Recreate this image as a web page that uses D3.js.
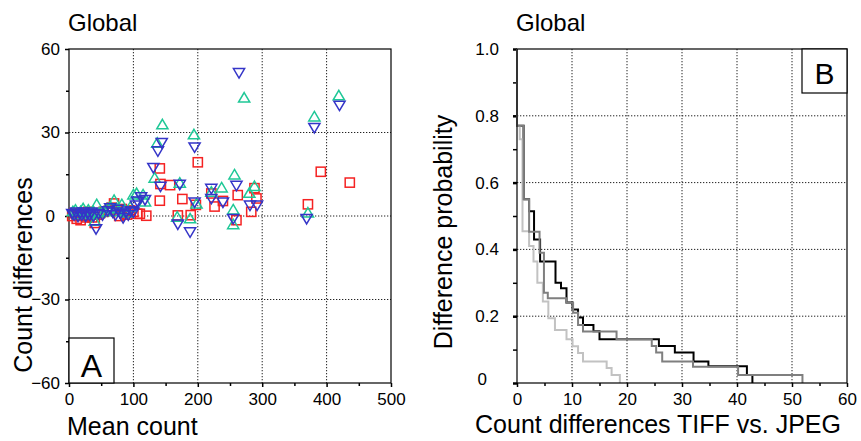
<!DOCTYPE html>
<html><head><meta charset="utf-8">
<script src="https://cdn.jsdelivr.net/npm/d3@7"></script>
<style>
body{margin:0;background:#fff;}
text{font-family:"Liberation Sans",Arial,Helvetica,sans-serif;fill:#000;}
</style></head>
<body><svg id="chart" width="861" height="441"></svg>
<script>
// ---- Panel A data: [mean count, count difference] ----
const redSquares = [
 [5,0],[9,1],[12,-1],[15,0.5],[18,-1.5],[21,1],[24,0],[27,-0.5],[30,1.5],[33,0.5],[36,-0.5],[40,-2.5],[44,0.5],[48,1],
 [54,1.5],[62,2],[66,3],[70,4.5],[74,2],[78,0],[82,2.5],[86,1],[90,0.5],[95,2],[100,1.5],[106,0.8],[110,0.8],[120,0.1],
 [141,17.1],[142,11.5],[157,11.1],[141,5.5],[176,6.1],[200,19.3],[169,0.2],[189,0.3],[197,4.0],[226,3.4],[239,5.4],
 [221,8.1],[262,7.5],[288,10],[291,6.3],[283,1.5],[260,-1.5],[371,4.2],[391,15.9],[436,12.0]
];
const blueDown = [
 [5,1],[8,0.5],[11,1.5],[14,0],[17,1],[20,0.5],[23,1.5],[26,0],[29,1],[32,0.5],[35,1.5],[38,0],[42,-4.5],[46,1],[52,0.5],
 [60,2],[64,3],[68,1.5],[72,0.5],[76,2.5],[80,1],[84,-0.5],[88,1.5],[92,0.5],[96,2],[100,1.5],[104,4],[106,5.5],[112,7],[118,6],
 [144,26.5],[138,23.5],[131,17.5],[142,10.8],[172,11.5],[195,24.9],[195,5.1],[169,-2.8],[188,-5.6],[264,51.6],[420,39.9],
 [381,31.9],[260,11.1],[221,10],[221,6.4],[239,5.1],[281,4],[292,4],[369,-0.8],[255,-0.8]
];
const tealUp = [
 [6,1.5],[10,2],[14,0.5],[18,1.5],[22,2.5],[26,1],[30,2],[34,0.5],[38,1.5],[40,-2],[43,4],[47,1],[55,1.5],[60,2.5],
 [65,3],[70,5.5],[74,2.5],[78,1.5],[82,4],[86,2],[90,1],[95,3],[100,7.5],[105,8],[115,7.5],[118,5],
 [145,32.7],[194,29.1],[137,26.1],[133,13.5],[172,11.7],[198,4.2],[168,-0.5],[188,-1.1],[272,42.3],[419,43.1],[381,35.5],
 [257,14.7],[237,10],[221,8.5],[288,10.5],[280,8.1],[255,2.1],[255,-3.2],[371,1.0]
];
const xTicksA = [0,100,200,300,400,500];
const xMinorA = [50,150,250,350,450];
const yTicksA = [-60,-30,0,30,60];
const yMinorA = [-45,-15,15,45];

// ---- Panel B data: step curves [count difference, probability] ----
const blackCurve = [[0,1],[0,0.77],[1.2,0.55],[2.2,0.514],[3.1,0.43],[4.2,0.364],[7,0.30],[8,0.284],[9,0.241],[10.1,0.22],
 [11.1,0.196],[12,0.174],[13.9,0.155],[15,0.131],[25.8,0.111],[28.7,0.091],[32.1,0.064],[34.8,0.05],[41.8,0.024],[42.8,0]];
const darkGrayCurve = [[0,1],[0,0.77],[1.2,0.55],[2.2,0.453],[4.1,0.39],[4.9,0.27],[5.6,0.254],[9,0.24],[10.2,0.21],
 [11.1,0.174],[12,0.154],[18.1,0.131],[24.5,0.111],[25.3,0.091],[26.4,0.064],[32,0.049],[40.2,0.024],[51.9,0]];
const lightGrayCurve = [[0,1],[0,0.77],[0.5,0.73],[1,0.454],[2.2,0.41],[3.0,0.364],[3.7,0.30],[4.7,0.244],[5.7,0.194],
 [6.9,0.159],[9.0,0.131],[10.1,0.11],[11.1,0.09],[12,0.064],[16.3,0.045],[17.2,0.024],[18.7,0]];
const xTicksB = [0,10,20,30,40,50,60];
const xMinorB = [5,15,25,35,45,55];
const yTicksB = [0,0.2,0.4,0.6,0.8,1.0];
const yMinorB = [0.1,0.3,0.5,0.7,0.9];

const svg = d3.select("#chart");
const TICKFONT = "17px";

// ================= Panel A =================
const A = {l:69, r:391, t:49, b:383};
const xA = d3.scaleLinear().domain([0,500]).range([A.l, A.r]);
const yA = d3.scaleLinear().domain([-60,60]).range([A.b, A.t]);
const gA = svg.append("g");

function grid(g, xs, ys, xVals, yVals, box){
  g.selectAll(null).data(xVals).enter().append("line")
    .attr("x1", d=>xs(d)).attr("x2", d=>xs(d)).attr("y1", box.t).attr("y2", box.b)
    .attr("stroke","#222").attr("stroke-width",1).attr("stroke-dasharray","1.3,1.7");
  g.selectAll(null).data(yVals).enter().append("line")
    .attr("y1", d=>ys(d)).attr("y2", d=>ys(d)).attr("x1", box.l).attr("x2", box.r)
    .attr("stroke","#222").attr("stroke-width",1).attr("stroke-dasharray","1.3,1.7");
}
grid(gA, xA, yA, [100,200,300,400], [-30,0,30], A);

function styleAxis(g){
  g.select(".domain").remove();
  g.selectAll(".tick line").attr("stroke","#000").attr("stroke-width",1.5);
  g.selectAll(".tick text").style("font-size",TICKFONT).attr("fill","#000");
}
const axAx = gA.append("g").attr("transform",`translate(0,${A.b})`)
  .call(d3.axisBottom(xA).tickValues(xTicksA).tickSize(4).tickPadding(6));
styleAxis(axAx);
const axAxm = gA.append("g").attr("transform",`translate(0,${A.b})`)
  .call(d3.axisBottom(xA).tickValues(xMinorA).tickSize(3).tickFormat(""));
styleAxis(axAxm);
const axAy = gA.append("g").attr("transform",`translate(${A.l},0)`)
  .call(d3.axisLeft(yA).tickValues(yTicksA).tickSize(4).tickPadding(5));
styleAxis(axAy);
axAy.selectAll(".tick text").filter(d=>d===0).attr("dx",-5);
const axAym = gA.append("g").attr("transform",`translate(${A.l},0)`)
  .call(d3.axisLeft(yA).tickValues(yMinorA).tickSize(3).tickFormat(""));
styleAxis(axAym);

gA.append("rect").attr("x",A.l).attr("y",A.t).attr("width",A.r-A.l).attr("height",A.b-A.t)
  .attr("fill","none").attr("stroke","#000").attr("stroke-width",1.2);

// markers
const RED="#f52222", TEAL="#1fc897", BLUE="#3535c8";
const sq = 9.2;
gA.append("g").selectAll("rect").data(redSquares).enter().append("rect")
  .attr("x", d=>xA(d[0])-sq/2).attr("y", d=>yA(d[1])-sq/2).attr("width",sq).attr("height",sq)
  .attr("fill","none").attr("stroke",RED).attr("stroke-width",1.5);
const tw=5.6, th=9.5;
gA.append("g").selectAll("path").data(tealUp).enter().append("path")
  .attr("d", d=>{const x=xA(d[0]), y=yA(d[1]); return `M${x},${y-th*0.6}L${x+tw},${y+th*0.4}L${x-tw},${y+th*0.4}Z`;})
  .attr("fill","none").attr("stroke",TEAL).attr("stroke-width",1.5);
gA.append("g").selectAll("path").data(blueDown).enter().append("path")
  .attr("d", d=>{const x=xA(d[0]), y=yA(d[1]); return `M${x},${y+th*0.6}L${x+tw},${y-th*0.4}L${x-tw},${y-th*0.4}Z`;})
  .attr("fill","none").attr("stroke",BLUE).attr("stroke-width",1.5);

// box A
gA.append("rect").attr("x",A.l).attr("y",338).attr("width",45).attr("height",A.b-338)
  .attr("fill","#fff").attr("stroke","#000").attr("stroke-width",1.2);
gA.append("text").attr("x",A.l+22.5).attr("y",377).attr("text-anchor","middle")
  .style("font-size","32px").text("A");

gA.append("text").attr("x",68).attr("y",31).style("font-size","24px").text("Global");
gA.append("text").attr("transform","translate(32,275) rotate(-90)").attr("text-anchor","middle")
  .style("font-size","25px").text("Count differences");
gA.append("text").attr("x",67).attr("y",435).style("font-size","25px").text("Mean count");

// ================= Panel B =================
const B = {l:517, r:847, t:49, b:383};
const xB = d3.scaleLinear().domain([0,60]).range([B.l, B.r]);
const yB = d3.scaleLinear().domain([0,1]).range([B.b, B.t]);
const gB = svg.append("g");
grid(gB, xB, yB, [10,20,30,40,50], [0.2,0.4,0.6,0.8], B);

const axBx = gB.append("g").attr("transform",`translate(0,${B.b})`)
  .call(d3.axisBottom(xB).tickValues(xTicksB).tickSize(4).tickPadding(6));
styleAxis(axBx);
const axBxm = gB.append("g").attr("transform",`translate(0,${B.b})`)
  .call(d3.axisBottom(xB).tickValues(xMinorB).tickSize(3).tickFormat(""));
styleAxis(axBxm);
const axBy = gB.append("g").attr("transform",`translate(${B.l},0)`)
  .call(d3.axisLeft(yB).tickValues(yTicksB).tickSize(4).tickPadding(14)
    .tickFormat(d=> d===0 ? "0" : d3.format(".1f")(d)));
styleAxis(axBy);
axBy.selectAll(".tick text").filter(d=>d===0).attr("dx",-12).attr("dy","0.1em");
axBy.selectAll(".tick line").attr("stroke-width",2.5);
const axBym = gB.append("g").attr("transform",`translate(${B.l},0)`)
  .call(d3.axisLeft(yB).tickValues(yMinorB).tickSize(4).tickFormat(""));
styleAxis(axBym);

const stepLine = d3.line().x(d=>xB(d[0])).y(d=>yB(d[1])).curve(d3.curveStepAfter);
gB.append("path").datum(blackCurve).attr("d",stepLine).attr("fill","none").attr("stroke","#000").attr("stroke-width",2);
gB.append("path").datum(lightGrayCurve).attr("d",stepLine).attr("fill","none").attr("stroke","#c2c2c2").attr("stroke-width",2);
gB.append("path").datum(darkGrayCurve).attr("d",stepLine).attr("fill","none").attr("stroke","#7f7f7f").attr("stroke-width",2);

gB.append("rect").attr("x",B.l).attr("y",B.t).attr("width",B.r-B.l).attr("height",B.b-B.t)
  .attr("fill","none").attr("stroke","#000").attr("stroke-width",1.2);

gB.append("rect").attr("x",802).attr("y",B.t).attr("width",B.r-802).attr("height",44)
  .attr("fill","#fff").attr("stroke","#000").attr("stroke-width",1.2);
gB.append("text").attr("x",824.5).attr("y",84).attr("text-anchor","middle")
  .style("font-size","30px").text("B");

gB.append("text").attr("x",516).attr("y",31).style("font-size","24px").text("Global");
gB.append("text").attr("transform","translate(452,232) rotate(-90)").attr("text-anchor","middle")
  .style("font-size","25px").text("Difference probability");
gB.append("text").attr("x",658).attr("y",433).attr("text-anchor","middle")
  .style("font-size","25px").text("Count differences TIFF vs. JPEG");
</script></body></html>
